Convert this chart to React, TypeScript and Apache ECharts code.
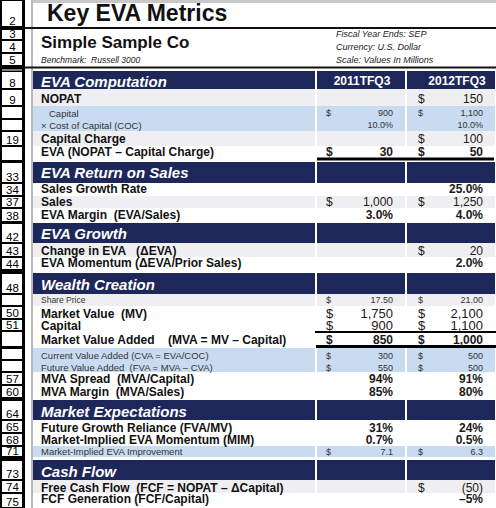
import React, { useEffect, useRef } from "react";
import * as echarts from "echarts";

// ---------- data ----------
const reportTitle = "Key EVA Metrics";
const companyName = "Simple Sample Co";
const benchmarkNote = "Benchmark:  Russell 3000";
const reportNotes = ["Fiscal Year Ends: SEP", "Currency: U.S. Dollar", "Scale: Values In Millions"];
const periods = ["2011TFQ3", "2012TFQ3"];
const headerRowNumbers = ["2", "3", "4", "5", ""];
const rowNumbers = ["8", "9", "", "", "19", "", "33", "34", "37", "38", "42", "43", "44", "48", "", "50", "51", "", "", "", "57", "60", "64", "65", "68", "71", "73", "74", "75"];
const rowLabels = [
  "EVA Computation",
  "NOPAT",
  "Capital",
  "× Cost of Capital (COC)",
  "Capital Charge",
  "EVA (NOPAT – Capital Charge)",
  "EVA Return on Sales",
  "Sales Growth Rate",
  "Sales",
  "EVA Margin  (EVA/Sales)",
  "EVA Growth",
  "Change in EVA   (ΔEVA)",
  "EVA Momentum (ΔEVA/Prior Sales)",
  "Wealth Creation",
  "Share Price",
  "Market Value  (MV)",
  "Capital",
  "Market Value Added    (MVA = MV – Capital)",
  "Current Value Added (CVA = EVA/COC)",
  "Future Value Added  (FVA = MVA – CVA)",
  "MVA Spread  (MVA/Capital)",
  "MVA Margin  (MVA/Sales)",
  "Market Expectations",
  "Future Growth Reliance (FVA/MV)",
  "Market-Implied EVA Momentum (MIM)",
  "Market-Implied EVA Improvement",
  "Cash Flow",
  "Free Cash Flow  (FCF = NOPAT – ΔCapital)",
  "FCF Generation (FCF/Capital)",
];
const values2011: (number | null)[] = [null, null, 900, 0.1, null, 30, null, null, 1000, 0.03, null, null, null, null, 17.5, 1750, 900, 850, 300, 550, 0.94, 0.85, null, 0.31, 0.007, 7.1, null, null, null];
const values2012: (number | null)[] = [null, 150, 1100, 0.1, 100, 50, null, 0.25, 1250, 0.04, null, 20, 0.02, null, 21.0, 2100, 1100, 1000, 500, 500, 0.91, 0.8, null, 0.24, 0.005, 6.3, null, -50, -0.05];
const valueFormats = ["", "$0", "$0", "0.0%", "$0", "$0", "", "0.0%", "$0", "0.0%", "", "$0", "0.0%", "", "$0.00", "$0", "$0", "$0", "$0", "$0", "0%", "0%", "", "0%", "0.0%", "$0.0", "", "$0", "0%"];

// ---------- layout (positions / styles) ----------
type RowLayout = { t: number; b: number; base: number; bg: string; lab: string; val?: string };
const layout: RowLayout[] = [
  { t: 71, b: 89, base: 86.5, bg: "navy", lab: "sec" },
  { t: 89, b: 106, base: 103, bg: "gray", lab: "bold", val: "reg" },
  { t: 106, b: 119, base: 116.5, bg: "blue", lab: "indent", val: "small" },
  { t: 119, b: 131, base: 128.5, bg: "blue", lab: "small", val: "small" },
  { t: 131, b: 146, base: 143.5, bg: "gray", lab: "bold", val: "reg" },
  { t: 146, b: 161, base: 156.5, bg: "white", lab: "bold", val: "bold" },
  { t: 162, b: 183, base: 178, bg: "navy", lab: "sec" },
  { t: 183, b: 196, base: 193.5, bg: "white", lab: "bold", val: "bold" },
  { t: 196, b: 208, base: 206.5, bg: "gray", lab: "bold", val: "reg" },
  { t: 208, b: 222, base: 219.3, bg: "white", lab: "bold", val: "bold" },
  { t: 223, b: 243, base: 239, bg: "navy", lab: "sec" },
  { t: 243, b: 257, base: 255, bg: "gray", lab: "bold", val: "reg" },
  { t: 257, b: 270, base: 267.5, bg: "white", lab: "bold", val: "bold" },
  { t: 273, b: 294, base: 289.5, bg: "navy", lab: "sec" },
  { t: 294, b: 306, base: 303, bg: "gray", lab: "tiny", val: "small" },
  { t: 306, b: 319, base: 318, bg: "white", lab: "bold", val: "big" },
  { t: 319, b: 331, base: 330, bg: "white", lab: "bold", val: "big" },
  { t: 331, b: 347, base: 344, bg: "white", lab: "bold", val: "bold" },
  { t: 348, b: 360, base: 359, bg: "blue", lab: "small", val: "small" },
  { t: 360, b: 372, base: 371, bg: "blue", lab: "small", val: "small" },
  { t: 372, b: 385, base: 383, bg: "white", lab: "bold", val: "bold" },
  { t: 385, b: 398, base: 396, bg: "white", lab: "bold", val: "bold" },
  { t: 400, b: 420, base: 416.5, bg: "navy", lab: "sec" },
  { t: 420, b: 433, base: 432, bg: "white", lab: "bold", val: "bold" },
  { t: 433, b: 446, base: 444, bg: "white", lab: "bold", val: "bold" },
  { t: 446, b: 457, base: 455, bg: "blue", lab: "small", val: "small" },
  { t: 460, b: 480, base: 476.5, bg: "navy", lab: "sec" },
  { t: 480, b: 493, base: 492, bg: "gray", lab: "bold", val: "reg" },
  { t: 493, b: 508, base: 503, bg: "white", lab: "bold", val: "bold" },
];
const headerGutter = [
  [0, 27],
  [29, 40],
  [40, 53],
  [53, 66],
  [68.5, 70.5],
];
const BG: Record<string, string> = { navy: "#1e2759", gray: "#efeff1", blue: "#c8dbf1", white: "#ffffff" };
const FONT = "'Liberation Sans', Arial, Helvetica, sans-serif";
const COLS = [
  { x: 317, w: 88, dollar: 326, right: 393, head: 362 },
  { x: 407, w: 88, dollar: 418, right: 483, head: 457 },
];

function fmtValue(v: number, f: string): string {
  const neg = v < 0;
  const a = Math.abs(v);
  if (f.startsWith("$")) {
    const dec = f === "$0.00" ? 2 : f === "$0.0" ? 1 : 0;
    const s = a.toLocaleString("en-US", { minimumFractionDigits: dec, maximumFractionDigits: dec });
    return neg ? "(" + s + ")" : s;
  }
  const dec = f === "0.0%" ? 1 : 0;
  const s = (a * 100).toFixed(dec) + "%";
  return neg ? "–" + s : s;
}

function spaces(s: string) {
  return s.replace(/ {2,}/g, (m) => "\u00a0".repeat(m.length));
}

function txt(x: number, base: number, text: string, size: number, o: any = {}) {
  const align = o.align || "left";
  return {
    type: "text",
    x,
    y: base - 0.35 * size,
    silent: true,
    style: {
      text: spaces(text),
      fill: o.color || "#1a1a1a",
      fontSize: size,
      fontWeight: o.bold ? "bold" : "normal",
      fontStyle: o.italic ? "italic" : "normal",
      fontFamily: FONT,
      lineHeight: Math.round(size * 0.9),
      align,
      textAlign: align,
      verticalAlign: "middle",
      textVerticalAlign: "middle",
    },
  };
}

function rect(x: number, y: number, w: number, h: number, fill: string) {
  return { type: "rect", silent: true, shape: { x, y, width: w, height: h }, style: { fill } };
}

function buildElements() {
  const els: any[] = [];
  // page background
  els.push(rect(0, 0, 496, 508, "#ffffff"));
  els.push(rect(33, 0, 463, 3, "#c8c8c8"));
  // gutter
  els.push(rect(0, 0, 25, 508, "#000000"));
  els.push(rect(31, 0, 2, 508, "#b8b8b8"));
  const gutterBoxes: [number, number, string][] = [];
  headerGutter.forEach((g, i) => gutterBoxes.push([g[0], g[1], headerRowNumbers[i]]));
  layout.forEach((r, i) => gutterBoxes.push([r.t, r.b, rowNumbers[i]]));
  gutterBoxes.forEach(([t, b, n]) => {
    els.push(rect(2, t + 1, 20, Math.max(1, b - t - 2), "#ffffff"));
    if (n) els.push(txt(12.5, b - 1.5, n, 11.5, { align: "center", color: "#000" }));
  });
  // header lines
  els.push(rect(22, 27, 474, 2, "#111111"));
  els.push(rect(22, 66.5, 474, 2, "#111111"));

  // header texts
  els.push(txt(47, 21.5, reportTitle, 23, { bold: true, color: "#111" }));
  els.push(txt(41, 48, companyName, 17, { bold: true, color: "#111" }));
  els.push(txt(41, 63, benchmarkNote, 8.5, { italic: true, color: "#222" }));
  reportNotes.forEach((n, i) => els.push(txt(336, 37 + i * 13, n, 9, { italic: true, color: "#222" })));

  // row backgrounds
  layout.forEach((r) => {
    const fill = BG[r.bg];
    if (r.bg === "white") return;
    els.push(rect(33, r.t, 282, r.b - r.t, fill));
    COLS.forEach((c) => els.push(rect(c.x, r.t, c.w, r.b - r.t, fill)));
  });

  // rules
  els.push(rect(317, 157.5, 177, 3, "#000"));
  els.push(rect(315, 331, 181, 2, "#000"));
  els.push(rect(316, 345, 180, 3, "#000"));

  // texts
  let firstSection = true;
  layout.forEach((r, i) => {
    const label = rowLabels[i];
    if (r.lab === "sec") {
      els.push(txt(41, r.base, label, 15, { bold: true, italic: true, color: "#ffffff" }));
      if (firstSection) {
        periods.forEach((p, k) => els.push(txt(COLS[k].head, r.base - 1.5, p, 12, { bold: true, color: "#ffffff", align: "center" })));
        firstSection = false;
      }
      return;
    }
    if (r.lab === "bold") els.push(txt(41, r.base, label, 12, { bold: true, color: "#111" }));
    else if (r.lab === "indent") els.push(txt(49, r.base, label, 9.5, { color: "#333" }));
    else if (r.lab === "small") els.push(txt(41, r.base, label, 9.5, { color: "#333" }));
    else if (r.lab === "tiny") els.push(txt(41, r.base, label, 8.5, { color: "#333" }));

    const f = valueFormats[i];
    const vs = [values2011[i], values2012[i]];
    const size = r.val === "small" ? 9 : r.val === "big" ? 13 : 12;
    const bold = r.val === "bold";
    const color = r.val === "small" ? "#333" : "#1a1a1a";
    vs.forEach((v, k) => {
      if (v === null || v === undefined) return;
      const c = COLS[k];
      if (f.startsWith("$")) els.push(txt(c.dollar, r.base, "$", size, { bold, color }));
      els.push(txt(c.right, r.base, fmtValue(v, f), size, { bold, color, align: "right" }));
    });
  });
  return els;
}

export default function App() {
  const ref = useRef<HTMLDivElement>(null);
  useEffect(() => {
    document.body.style.margin = "0";
    if (!ref.current) return;
    const chart = echarts.init(ref.current, null, { renderer: "svg" });
    chart.setOption({
      animation: false,
      backgroundColor: "#ffffff",
      graphic: { elements: buildElements() },
    });
    return () => chart.dispose();
  }, []);
  return <div ref={ref} style={{ width: 496, height: 508 }} />;
}
